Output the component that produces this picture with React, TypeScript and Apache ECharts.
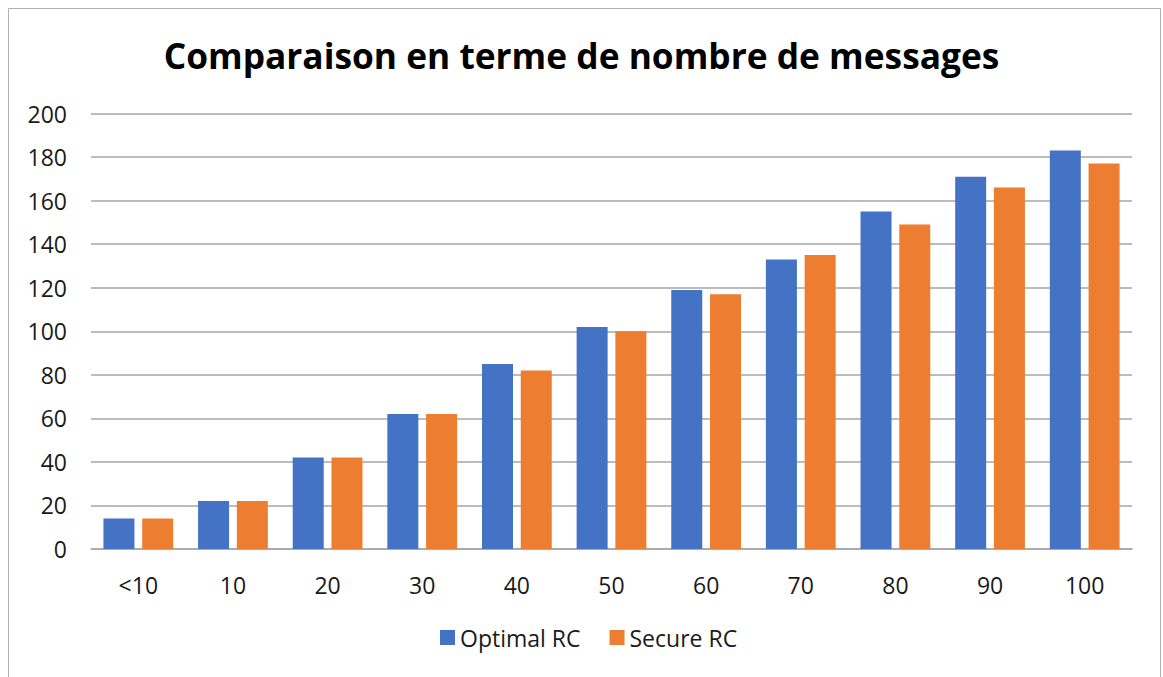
import React, { useEffect, useRef } from "react";
import * as echarts from "echarts";

const categories = ["<10", "10", "20", "30", "40", "50", "60", "70", "80", "90", "100"];
const optimalRC = [14, 22, 42, 62, 85, 102, 119, 133, 155, 171, 183];
const secureRC = [14, 22, 42, 62, 82, 100, 117, 135, 149, 166, 177];
const titleText = "Comparaison en terme de nombre de messages";

export default function App() {
  const ref = useRef<HTMLDivElement>(null);
  useEffect(() => {
    if (!ref.current) return;
    const chart = echarts.init(ref.current, null, { renderer: "svg" });
    const font = "'Open Sans', sans-serif";
    chart.setOption({
      animation: false,
      backgroundColor: "#ffffff",
      textStyle: { fontFamily: font },
      title: {
        text: titleText,
        left: "center",
        top: 32,
        textStyle: { fontSize: 35.3, fontWeight: "bold", color: "#000000", fontFamily: font },
      },
      graphic: [
        {
          type: "rect",
          shape: { x: 8.5, y: 8.5, width: 1152, height: 720 },
          style: { fill: "none", stroke: "#b0b0b0", lineWidth: 1 },
          silent: true,
        },
      ],
      legend: {
        bottom: 23,
        left: 435,
        itemWidth: 15,
        itemHeight: 15,
        itemGap: 29,
        icon: "rect",
        textStyle: { fontSize: 23, color: "#1a1a1a", fontFamily: font },
        data: ["Optimal RC", "Secure RC"],
      },
      grid: { left: 91, right: 31, top: 113.5, bottom: 128, containLabel: false },
      xAxis: {
        type: "category",
        data: categories,
        axisTick: { show: false },
        axisLine: { lineStyle: { color: "#a6a6a6", width: 1.5 } },
        axisLabel: { fontSize: 23, color: "#1a1a1a", margin: 24, fontFamily: font },
      },
      yAxis: {
        type: "value",
        min: 0,
        max: 200,
        interval: 20,
        axisLine: { show: false },
        axisTick: { show: false },
        splitLine: { lineStyle: { color: "#a6a6a6", width: 1.5 } },
        axisLabel: { fontSize: 23, color: "#1a1a1a", margin: 24, fontFamily: font },
      },
      series: [
        {
          name: "Optimal RC",
          type: "bar",
          data: optimalRC,
          barWidth: 31,
          barGap: "25%",
          itemStyle: { color: "#4472C4" },
        },
        {
          name: "Secure RC",
          type: "bar",
          data: secureRC,
          barWidth: 31,
          barGap: "25%",
          itemStyle: { color: "#ED7D31" },
        },
      ],
    });
    return () => chart.dispose();
  }, []);
  return (
    <div
      ref={ref}
      style={{ position: "absolute", left: 0, top: 0, width: 1163, height: 677 }}
    />
  );
}
